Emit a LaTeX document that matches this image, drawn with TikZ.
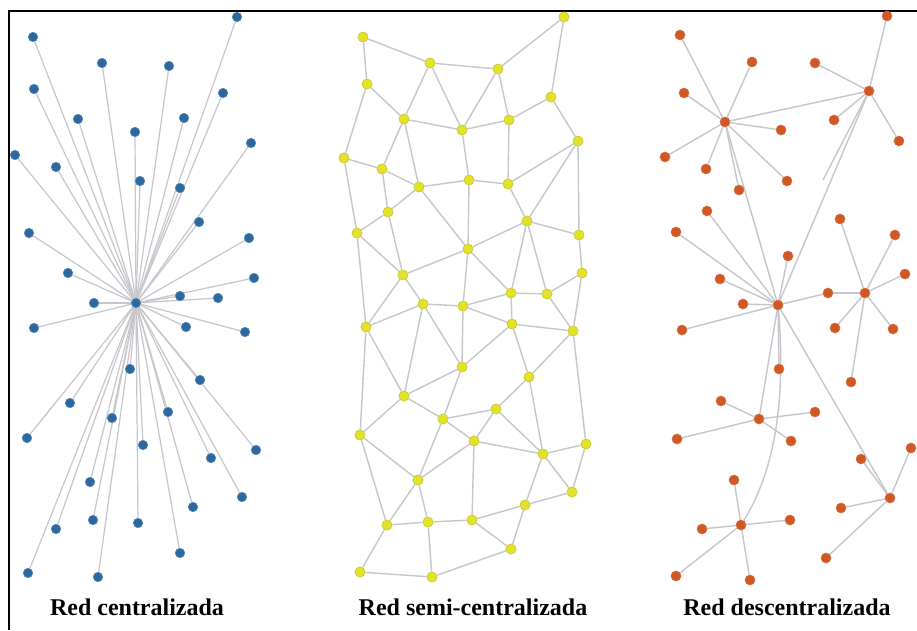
\documentclass[tikz,border=0pt]{standalone}
\usepackage{fontspec}
\setmainfont{Liberation Serif}
\usetikzlibrary{backgrounds}
\definecolor{netblue}{RGB}{44,104,160}
\definecolor{netyellow}{RGB}{226,226,46}
\definecolor{netyellowedge}{RGB}{205,205,40}
\definecolor{netorange}{RGB}{208,88,36}
\definecolor{linkgray}{RGB}{198,198,204}
\tikzset{
  bdot/.style={circle,fill=netblue,draw=netblue!80!white,line width=0.6pt,inner sep=0pt,minimum size=9.5pt},
  ydot/.style={circle,fill=netyellow,draw=netyellowedge,line width=0.8pt,inner sep=0pt,minimum size=10pt},
  odot/.style={circle,fill=netorange,draw=netorange!85!white,line width=0.6pt,inner sep=0pt,minimum size=10pt},
  link/.style={draw=linkgray,line width=1.4pt},
  caption/.style={font=\fontsize{24}{28}\selectfont\bfseries,anchor=base,inner sep=0pt}
}
\begin{document}
\begin{tikzpicture}[x=1pt,y=-1pt]
\useasboundingbox (0,0) rectangle (917,630);

% ---------- centralised network ----------
\node[bdot] (bc) at (136,303) {};
\foreach \px/\py [count=\i] in {33/37,237/17,102/63,169/66,34/89,223/93,78/119,184/118,
  135/132,251/143,15/155,56/167,140/181,180/188,199/222,29/233,249/238,68/273,254/278,
  94/303,180/296,218/298,34/328,186/327,245/332,130/369,200/380,70/403,168/412,112/418,
  27/438,143/445,256/450,211/458,90/482,242/497,193/507,56/529,93/520,138/523,180/553,
  28/573,98/577}
  \node[bdot] (b\i) at (\px,\py) {};

% ---------- semi-centralised network ----------
\foreach \px/\py [count=\i] in {363/37,564/17,430/63,498/69,367/84,551/97,404/119,509/120,
  462/130,578/141,344/158,382/169,419/187,469/180,508/184,388/212,527/221,357/233,579/235,
  468/249,403/275,582/273,511/293,547/294,423/304,463/306,366/327,512/324,573/331,462/367,
  529/377,404/396,496/409,443/419,360/435,474/441,586/444,543/454,418/480,572/492,525/505,
  387/525,428/522,472/520,511/549,360/572,432/577}
  \node[ydot] (y\i) at (\px,\py) {};

% ---------- decentralised network ----------
\node[odot] (h1) at (725,122) {};
\node[odot] (h2) at (869,91) {};
\node[odot] (h3) at (778,305) {};
\node[odot] (h4) at (865,293) {};
\node[odot] (h5) at (759,419) {};
\node[odot] (h6) at (890,498) {};
\node[odot] (h7) at (741,525) {};
\foreach \px/\py [count=\i] in {680/35,752/62,684/93,781/130,665/157,706/169,787/181,739/190,
  887/16,815/63,834/120,899/141,
  707/211,676/232,788/256,720/279,743/304,682/330,779/369,828/293,
  840/219,895/235,905/274,835/328,893/329,851/382,
  721/401,815/412,677/439,791/441,
  911/448,841/508,826/558,861/459,
  734/480,790/520,702/529,676/576,750/580}
  \node[odot] (o\i) at (\px,\py) {};
\coordinate (stub) at (823,180);

% ---------- captions ----------
\node[caption] (capA) at (137,615) {Red centralizada};
\node[caption] (capB) at (473,615) {Red semi-centralizada};
\node[caption] (capC) at (787,615) {Red descentralizada};

% ---------- connectors and background ----------
\begin{scope}[on background layer]
  \fill[white] (0,0) rectangle (917,630);
  \foreach \i in {1,...,43} \draw[link,line width=1.2pt] (bc) -- (b\i);
  \foreach \a/\b in {1/3,3/4,4/2,2/6,1/5,5/7,3/7,3/9,4/9,4/8,7/9,9/8,8/6,6/10,5/11,7/12,
    7/13,11/12,12/13,9/14,8/15,13/14,14/15,15/10,10/17,10/19,15/17,12/16,13/16,11/18,16/18,
    13/20,14/20,17/20,17/19,18/21,16/21,20/21,19/22,17/23,17/24,20/23,23/24,24/22,18/27,
    21/25,21/27,20/26,23/26,25/26,25/27,25/32,25/30,26/30,26/28,23/28,24/29,22/29,28/29,
    28/30,28/31,29/31,29/37,27/32,27/35,30/32,30/34,32/34,32/35,31/33,31/38,34/33,34/36,
    33/36,33/38,36/38,38/37,37/40,38/40,38/41,34/39,36/39,35/39,35/42,39/42,39/43,42/43,
    43/44,36/44,44/41,41/40,44/45,41/45,42/46,43/47,46/47,47/45}
    \draw[link] (y\a) -- (y\b);
  \foreach \i in {1,...,8} \draw[link] (h1) -- (o\i);
  \foreach \i in {9,...,12} \draw[link] (h2) -- (o\i);
  \foreach \i in {13,...,20} \draw[link] (h3) -- (o\i);
  \foreach \i in {20,...,26} \draw[link] (h4) -- (o\i);
  \foreach \i in {27,...,30} \draw[link] (h5) -- (o\i);
  \foreach \i in {31,...,34} \draw[link] (h6) -- (o\i);
  \foreach \i in {35,...,39} \draw[link] (h7) -- (o\i);
  \draw[link] (h1) -- (h2);
  \draw[link] (h1) -- (h3);
  \draw[link] (h2) -- (h3);
  \draw[link] (h2) -- (stub);
  \draw[link] (h3) -- (h5);
  \draw[link] (h3) -- (h6);
  \draw[link] (h3) .. controls (786,400) and (775,470) .. (h7);
  % frame on the top and left sides
  \draw[line width=2pt,black] (9,630) -- (9,11) -- (917,11);
\end{scope}
\end{tikzpicture}
\end{document}
